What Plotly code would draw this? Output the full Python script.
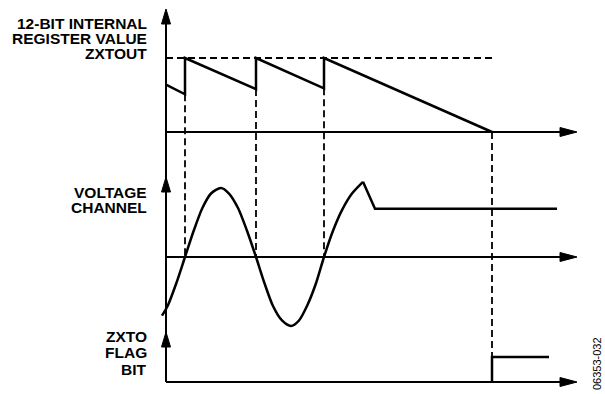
import plotly.graph_objects as go

W, H = 605, 394

# time in sample units; ZXTOUT reloads at each voltage zero crossing
zero_cross_t = [19, 90, 158]
timeout_t = 326
axis_end_t = 411

# 12-bit internal register value, normalised so that ZXTOUT = 1
reg_t = [0, 19, 19, 90, 90, 158, 158, 326]
reg_v = [0.64, 0.51, 1.0, 0.58, 1.0, 0.59, 1.0, 0.0]
zxtout_level = 1.0
valley_v = [0.51, 0.58, 0.59]

# voltage channel, normalised to peak = 1
volt_t = [-4, 1.6, 10.3, 19, 27.7, 36.4, 45, 55, 63, 72, 81, 90, 98.5, 107, 116, 125,
          133, 141, 150, 158, 167, 176, 186, 197]
volt_v = [-0.85, -0.71, -0.38, 0, 0.38, 0.71, 0.92, 1.0, 0.92, 0.71, 0.38, 0, -0.38, -0.71,
          -0.92, -1.0, -0.92, -0.71, -0.38, 0, 0.38, 0.68, 0.92, 1.09]
# voltage drops out and stays flat
dead_t = [197, 209, 391]
dead_v = [1.09, 0.70, 0.70]

# ZXTO flag bit
flag_t = [326, 326, 383]
flag_v = [0, 1, 1]

# pixel layout: (pixel of value 0, pixel of value 1) for each panel
T0_PX = 166
PANELS = {"y": (132, 58), "y2": (257, 188), "y3": (382, 357)}
UP_TIPS = [9, 177, 332]
BLACK = "black"


def axis_range(p0, p1):
    s = p0 - p1
    return [-(H - p0) / s, p0 / s]


def to_px(ax, v):
    p0, p1 = PANELS[ax]
    return p0 - v * (p0 - p1)


def paper(p):
    return (H - p) / H


fig = go.Figure()

# ZXTOUT reference level
fig.add_trace(go.Scatter(x=[0, timeout_t], y=[zxtout_level, zxtout_level], mode="lines",
                         line=dict(color=BLACK, width=1.8, dash="7px,4px"), yaxis="y"))
fig.add_trace(go.Scatter(x=reg_t, y=reg_v, mode="lines",
                         line=dict(color=BLACK, width=2.5), yaxis="y"))
fig.add_trace(go.Scatter(x=volt_t, y=volt_v, mode="lines", line_shape="spline",
                         line=dict(color=BLACK, width=2.5, smoothing=0.8), yaxis="y2"))
fig.add_trace(go.Scatter(x=dead_t, y=dead_v, mode="lines",
                         line=dict(color=BLACK, width=2.5), yaxis="y2"))
fig.add_trace(go.Scatter(x=flag_t, y=flag_v, mode="lines",
                         line=dict(color=BLACK, width=2.5), yaxis="y3"))

shapes = []
# dashed markers from the register reload down to the zero crossing
for t, v in zip(zero_cross_t, valley_v):
    shapes.append(dict(type="line", xref="x", yref="paper", x0=t, x1=t,
                       y0=paper(to_px("y", v)), y1=paper(to_px("y2", 0)),
                       line=dict(color=BLACK, width=1.8, dash="7px,4px")))
shapes.append(dict(type="line", xref="x", yref="paper", x0=timeout_t, x1=timeout_t,
                   y0=paper(to_px("y", 0)), y1=paper(to_px("y3", 0)),
                   line=dict(color=BLACK, width=1.8, dash="7px,4px")))

# vertical axis
shapes.append(dict(type="line", xref="x", yref="paper", x0=0, x1=0,
                   y0=paper(to_px("y3", 0)), y1=paper(UP_TIPS[0] + 6),
                   line=dict(color=BLACK, width=2)))
for tip in UP_TIPS:
    shapes.append(dict(type="path", xref="x", yref="paper",
                       path=f"M 0,{paper(tip)} L -4.5,{paper(tip + 15)} L 4.5,{paper(tip + 15)} Z",
                       fillcolor=BLACK, line=dict(color=BLACK, width=1)))

# horizontal axes
for ax in PANELS:
    py = to_px(ax, 0)
    shapes.append(dict(type="line", xref="x", yref="paper", x0=0, x1=axis_end_t - 8,
                       y0=paper(py), y1=paper(py), line=dict(color=BLACK, width=2)))
    shapes.append(dict(type="path", xref="x", yref="paper",
                       path=f"M {axis_end_t},{paper(py)} L {axis_end_t - 17},{paper(py - 4.5)} "
                            f"L {axis_end_t - 17},{paper(py + 4.5)} Z",
                       fillcolor=BLACK, line=dict(color=BLACK, width=1)))

font = dict(family="Liberation Sans, Arial, sans-serif", size=15.5, color=BLACK)
labels = [
    ("12-BIT INTERNAL", 23), ("REGISTER VALUE", 38.5), ("ZXTOUT", 54),
    ("VOLTAGE", 192.5), ("CHANNEL", 207.5),
    ("ZXTO", 336), ("FLAG", 352.5), ("BIT", 369),
]
annotations = [dict(text=f"<b>{txt}</b>", x=-17, xref="x", y=paper(py), yref="paper",
                    xanchor="right", yanchor="middle", showarrow=False, font=font)
               for txt, py in labels]
annotations.append(dict(text="06353-032", x=431, xref="x", y=paper(364), yref="paper",
                        textangle=-90, showarrow=False, xanchor="center", yanchor="middle",
                        font=dict(family="Liberation Sans, Arial, sans-serif", size=11, color=BLACK)))

fig.update_layout(
    width=W, height=H,
    margin=dict(l=0, r=0, t=0, b=0),
    paper_bgcolor="white", plot_bgcolor="white",
    showlegend=False,
    xaxis=dict(range=[-T0_PX, W - T0_PX], visible=False, fixedrange=True),
    yaxis=dict(range=axis_range(*PANELS["y"]), visible=False),
    yaxis2=dict(range=axis_range(*PANELS["y2"]), visible=False, overlaying="y"),
    yaxis3=dict(range=axis_range(*PANELS["y3"]), visible=False, overlaying="y"),
    shapes=shapes,
    annotations=annotations,
)

# the page body has a default 8px margin; drop it so the figure fills the window
fig.write_html("out.html", config={"displayModeBar": False},
               post_script="document.body.style.margin='0';")
